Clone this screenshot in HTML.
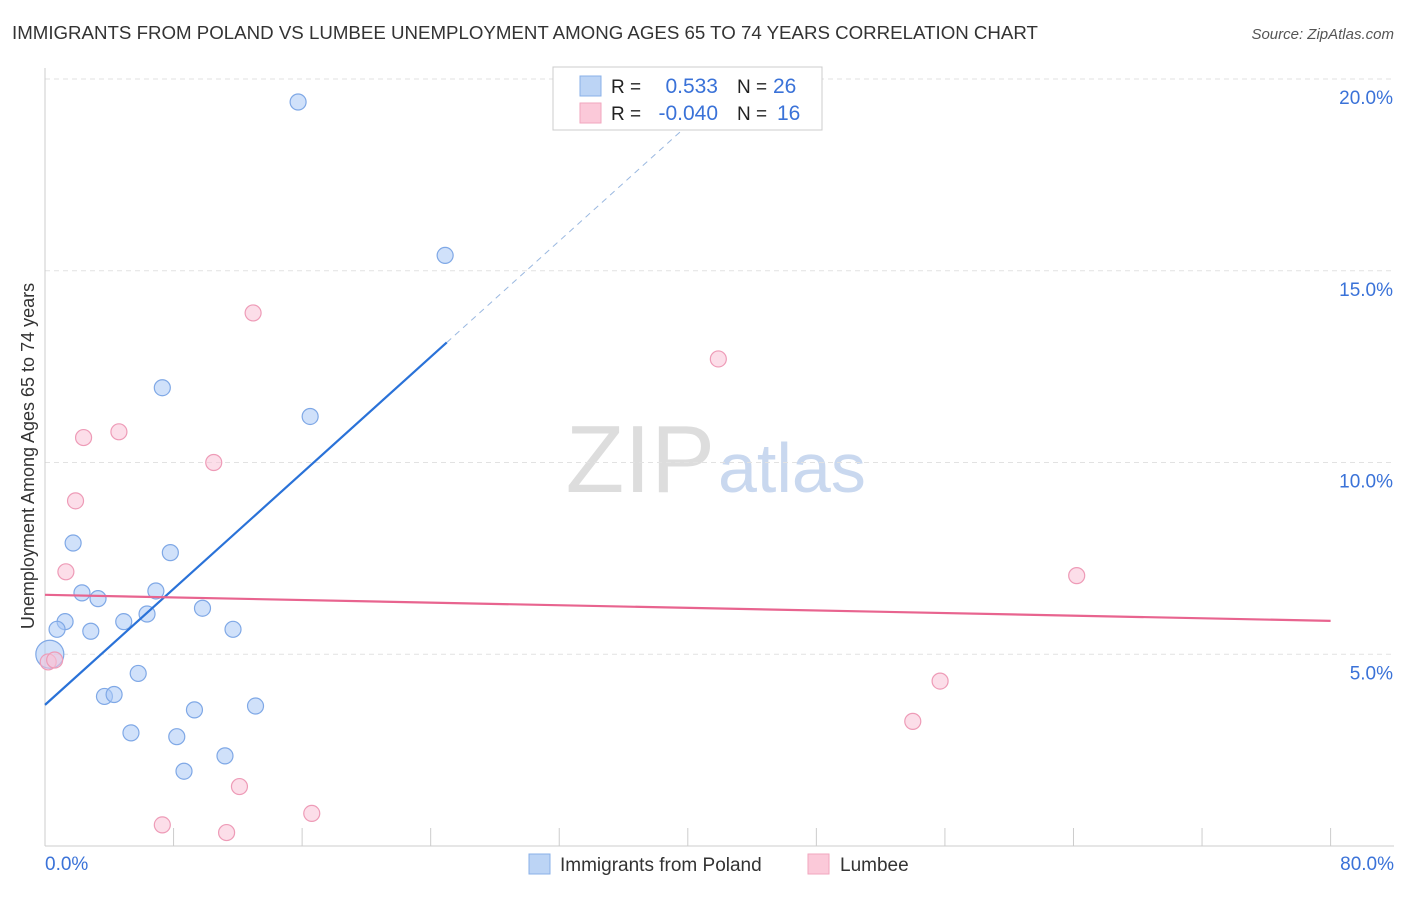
<!DOCTYPE html>
<html><head><meta charset="utf-8"><style>
body{margin:0;background:#fff;font-family:"Liberation Sans",sans-serif;}
svg text{font-family:"Liberation Sans",sans-serif;}
</style></head><body>
<svg id="c" width="1406" height="892">
<text x="12" y="39" font-size="18.7" fill="#333">IMMIGRANTS FROM POLAND VS LUMBEE UNEMPLOYMENT AMONG AGES 65 TO 74 YEARS CORRELATION CHART</text>
<text x="1394" y="39" font-size="15" fill="#555" font-style="italic" text-anchor="end">Source: ZipAtlas.com</text>
<text x="34" y="456" font-size="18" fill="#333" text-anchor="middle" transform="rotate(-90 34 456)">Unemployment Among Ages 65 to 74 years</text>
<text x="715" y="492" font-size="96" fill="#ddd" text-anchor="end" font-family="Liberation Serif">ZIP</text>
<text x="718" y="492" font-size="70" fill="#c9d8ef">atlas</text>
<g id="grid"></g><g id="marks"></g>
<g>
<rect x="553" y="67" width="269" height="63" fill="#fff" stroke="#ccc"/>
<rect x="580" y="76" width="21" height="20" fill="#bcd4f5" stroke="#8ab0e8"/>
<rect x="580" y="103" width="21" height="20" fill="#fbc9d9" stroke="#f2a6be"/>
<text x="611" y="93" font-size="19" fill="#222">R =</text><text x="718" y="93" font-size="21" fill="#3a72d8" text-anchor="end">0.533</text>
<text x="737" y="93" font-size="19" fill="#222">N =</text><text x="773" y="93" font-size="21" fill="#3a72d8">26</text>
<text x="611" y="120" font-size="19" fill="#222">R =</text><text x="718" y="120" font-size="21" fill="#3a72d8" text-anchor="end">-0.040</text>
<text x="737" y="120" font-size="19" fill="#222">N =</text><text x="777" y="120" font-size="21" fill="#3a72d8">16</text>
</g>
<g>
<rect x="529" y="854" width="21" height="20" fill="#bcd4f5" stroke="#8ab0e8"/>
<text x="560" y="871" font-size="19" fill="#333">Immigrants from Poland</text>
<rect x="808" y="854" width="21" height="20" fill="#fbc9d9" stroke="#f2a6be"/>
<text x="840" y="871" font-size="19" fill="#333">Lumbee</text>
</g>
</svg>
<script>
const polandX=[15.75,24.9,7.3,16.5,1.75,7.8,2.3,3.3,6.9,9.8,6.35,4.9,1.25,0.75,2.85,11.7,0.3,5.8,3.7,4.3,9.3,13.1,5.35,8.2,11.2,8.65];
const polandY=[19.4,15.4,11.95,11.2,7.9,7.65,6.6,6.45,6.65,6.2,6.05,5.85,5.85,5.65,5.6,5.65,5.0,4.5,3.9,3.95,3.55,3.65,2.95,2.85,2.35,1.95];
const lumbeeX=[12.95,41.9,2.4,4.6,10.5,1.9,1.3,64.2,0.2,0.6,55.7,54.0,12.1,7.3,11.3,16.6];
const lumbeeY=[13.9,12.7,10.65,10.8,10.0,9.0,7.15,7.05,4.8,4.85,4.3,3.25,1.55,0.55,0.35,0.85];
const yTicks=[5,10,15,20];
const xTicks=[0,8,16,24,32,40,48,56,64,72,80];
const polandTrend=[3.68,0.378];
const lumbeeTrend=[6.55,-0.0085];
const X=v=>45+v*16.07, Y=v=>846-v*38.35;
const ns="http://www.w3.org/2000/svg";
function mk(p,t,a){const e=document.createElementNS(ns,t);for(const k in a)e.setAttribute(k,a[k]);p.appendChild(e);return e;}
const g=document.getElementById('grid'), m=document.getElementById('marks');
yTicks.forEach(t=>{
 const l=mk(g,'line',{x1:45,x2:1394,y1:Y(t),y2:Y(t),stroke:'#e2e2e2','stroke-dasharray':'5,4'});
 
 
 const tx=mk(g,'text',{x:1393,y:Y(t)+25,'font-size':19,fill:'#3a72d8','text-anchor':'end'});tx.textContent=t.toFixed(1)+'%';
 
 
});
const ax=mk(g,'line',{x1:45,x2:1394,y1:846,y2:846,stroke:'#ccc'});


const ay=mk(g,'line',{x1:45,x2:45,y1:68,y2:846,stroke:'#ccc'});


xTicks.forEach(t=>{
 const l=mk(g,'line',{x1:X(t),x2:X(t),y1:828,y2:846,stroke:'#ccc'});
 
 
});
[[0,'start',45],[80,'end',1394]].forEach(([t,a,x])=>{
 const tx=mk(g,'text',{x:x,y:870,'font-size':19,fill:'#3a72d8','text-anchor':a});tx.textContent=t.toFixed(1)+'%';
 
 
});
polandX.forEach((x,i)=>{
 const c=mk(m,'circle',{cx:X(x),cy:Y(polandY[i]),r:i==16?14:8,fill:'rgba(170,200,245,0.55)',stroke:'#7fa8e6','stroke-width':1.2});
 
 
});
lumbeeX.forEach((x,i)=>{
 const c=mk(m,'circle',{cx:X(x),cy:Y(lumbeeY[i]),r:8,fill:'rgba(250,195,215,0.55)',stroke:'#ee9bb7','stroke-width':1.2});
 
 
});
const pl=mk(m,'line',{x1:X(0),y1:Y(polandTrend[0]),x2:X(25),y2:Y(polandTrend[0]+25*polandTrend[1]),stroke:'#2a72d8','stroke-width':2.2});


const pd=mk(m,'line',{x1:X(25),y1:Y(polandTrend[0]+25*polandTrend[1]),x2:X(41.5),y2:Y(polandTrend[0]+41.5*polandTrend[1]),stroke:'#9ab8e0','stroke-width':1,'stroke-dasharray':'6,5'});


const ll=mk(m,'line',{x1:X(0),y1:Y(lumbeeTrend[0]),x2:X(80),y2:Y(lumbeeTrend[0]+80*lumbeeTrend[1]),stroke:'#e8648f','stroke-width':2.2});


</script>
</body></html>
